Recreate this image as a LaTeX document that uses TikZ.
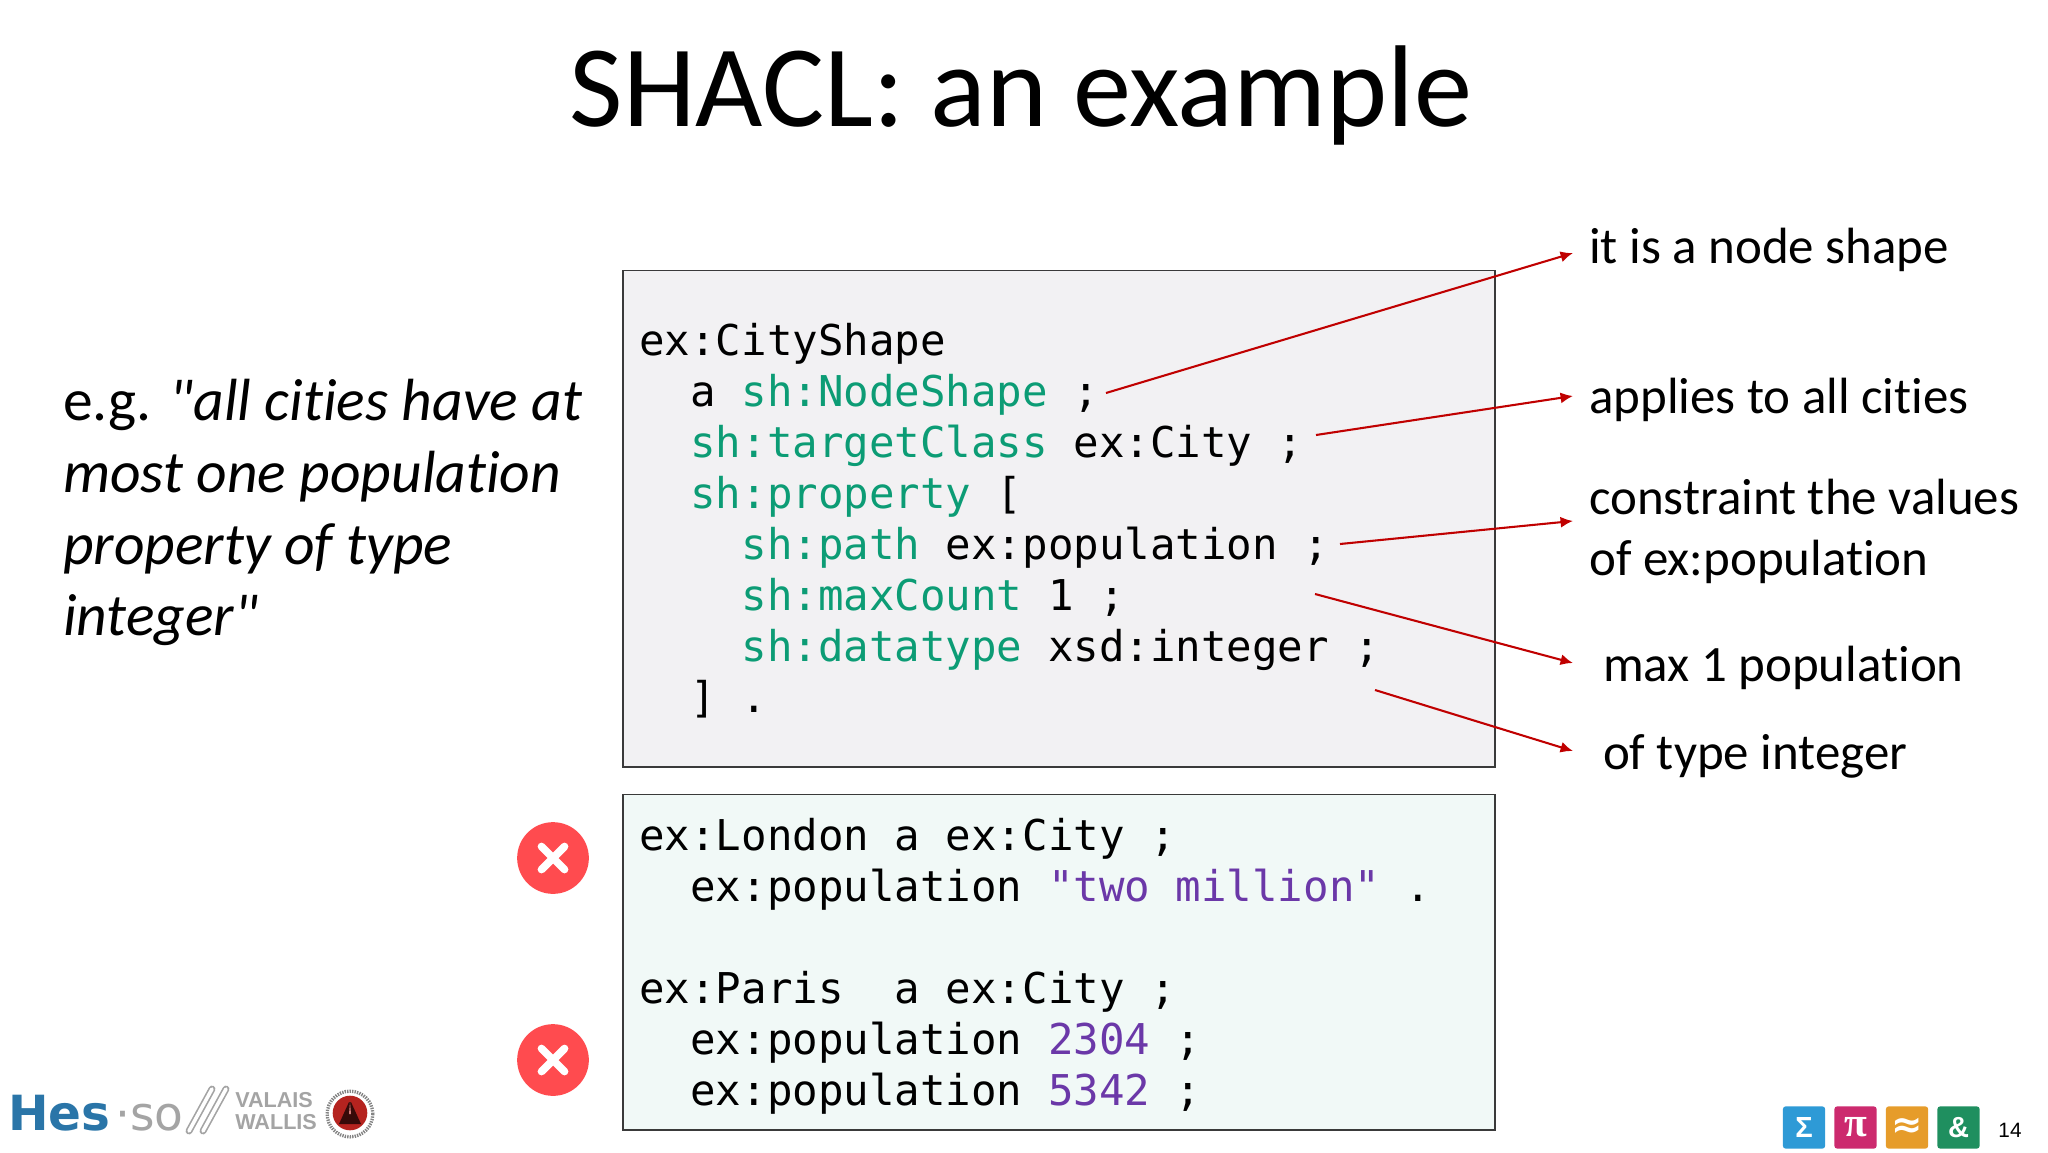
\documentclass[tikz,border=0pt]{standalone}
\usepackage{fontspec}
\setmainfont[Ligatures={TeXOff,NoCommon}]{Carlito}
\newfontfamily\codefont{DejaVu Sans Mono}
\newfontfamily\logofont{Liberation Sans}
\newfontfamily\brandfont{DejaVu Sans}
\newfontfamily\tileserif{Liberation Serif}
\usepackage{xcolor}
\usetikzlibrary{shapes,arrows.meta}

\definecolor{ShapeFill}{HTML}{F2F1F3}
\definecolor{DataFill}{HTML}{F1F9F7}
\definecolor{BoxLine}{HTML}{3A3A3A}
\definecolor{ArrowRed}{HTML}{C00000}
\definecolor{KeyGreen}{HTML}{0C9C75}
\definecolor{LitPurple}{HTML}{6B38A8}
\definecolor{BadRed}{HTML}{FF4B4F}
\definecolor{HesBlue}{HTML}{2A75A8}
\definecolor{HesGray}{HTML}{A4A4A4}
\definecolor{SealRed}{HTML}{B5231F}
\definecolor{TileBlue}{HTML}{2E9AD6}
\definecolor{TilePink}{HTML}{CC2A6E}
\definecolor{TileOrange}{HTML}{E69C2A}
\definecolor{TileGreen}{HTML}{1F8F5F}

\tikzset{
  codebox/.style={draw=BoxLine, line width=1.2pt, anchor=north west, inner sep=0pt},
  codetext/.style={anchor=north west, inner sep=0pt, align=left, font=\fontsize{30.65pt}{36.85pt}\selectfont\codefont},
  note/.style={anchor=west, inner ysep=0pt, inner xsep=11.5pt, align=left, font=\fontsize{36.8pt}{44.6pt}\selectfont},
  farnote/.style={note, inner xsep=21.5pt},
  badmark/.style={circle, fill=BadRed, inner sep=0pt, minimum size=51.8pt},
  badcross/.style={cross out, draw=white, line width=5.6pt, line cap=round, inner sep=0pt, minimum size=11pt},
  notearrow/.style={draw=ArrowRed, line width=1.5pt, -{Latex[length=9pt,width=8pt]}},
  tile/.style={rounded corners=2pt, inner sep=0pt, minimum size=30.5pt, text=white},
}
\newcommand{\kw}[1]{\textcolor{KeyGreen}{#1}}
\newcommand{\lit}[1]{\textcolor{LitPurple}{#1}}

\begin{document}
\begin{tikzpicture}[x=0.01in, y=-0.01in]
\useasboundingbox (0,0) rectangle (2048,1152);

% title
\node[inner sep=0pt, font=\fontsize{84pt}{84pt}\selectfont] (title) at (1021,95) {SHACL: an example};

% left text
\node[anchor=north west, inner sep=0pt, align=left, font=\fontsize{43pt}{51.8pt}\selectfont] (claim) at (63,379)
  {e.g. \textit{"all cities have at}\\ \textit{most one population}\\ \textit{property of type}\\ \textit{integer"}};

% code boxes
\node[codebox, fill=ShapeFill, minimum width=630pt, minimum height=358.5pt] (shapebox) at (622,269.5) {};
\node[codebox, fill=DataFill, minimum width=630pt, minimum height=242.5pt] (databox) at (622,793.5) {};

\node[codetext] (shapecode) at (639,322.5) {ex:CityShape\\
~~a \kw{sh:NodeShape} ;\\
~~\kw{sh:targetClass} ex:City ;\\
~~\kw{sh:property} [\\
~~~~\kw{sh:path} ex:population ;\\
~~~~\kw{sh:maxCount} 1 ;\\
~~~~\kw{sh:datatype} xsd:integer ;\\
~~] .};

\node[codetext] (datacode) at (639,817.5) {ex:London a ex:City ;\\
~~ex:population \lit{"two million"} .\\
\\
ex:Paris ~a ex:City ;\\
~~ex:population \lit{2304} ;\\
~~ex:population \lit{5342} ;};

% bad marks
\node[badmark] (badlondon) at (553,858) {};
\node[badcross] (crosslondon) at (553,858) {};
\node[badmark] (badparis) at (553,1060) {};
\node[badcross] (crossparis) at (553,1060) {};

% notes
\node[note] (noteshape) at (1573,250.4) {it is a node shape};
\node[note] (notetarget) at (1573,400) {applies to all cities};
\node[note] (notepath) at (1573,531.5) {constraint the values\\of ex:population};
\node[farnote] (notemax) at (1573,668) {max 1 population};
\node[farnote] (notetype) at (1573,756) {of type integer};

\coordinate (fromshape) at (1106,393);
\coordinate (fromtarget) at (1316,435);
\coordinate (frompath) at (1340,544);
\coordinate (frommax) at (1315,594);
\coordinate (fromtype) at (1375,690);

\draw[notearrow] (fromshape) -- ([yshift=-1.9pt]noteshape.west);
\draw[notearrow] (fromtarget) -- ([yshift=2.9pt]notetarget.west);
\draw[notearrow] (frompath) -- ([yshift=7.6pt]notepath.west);
\draw[notearrow] (frommax) -- ([yshift=3.6pt]notemax.west);
\draw[notearrow] (fromtype) -- ([yshift=3.6pt]notetype.west);

% logo
\node[anchor=base west, inner sep=0pt, text=HesBlue, font=\fontsize{35pt}{35pt}\selectfont\brandfont\bfseries] (hes) at (8,1130) {Hes};
\node[anchor=base west, inner sep=0pt, text=HesGray, font=\fontsize{34pt}{34pt}\selectfont\brandfont] (so) at (115,1130) {·so};
\draw[HesGray, line width=5pt, line cap=round] (189,1131) -- (212,1089);
\draw[white, line width=2.6pt, line cap=round] (189,1131) -- (212,1089);
\draw[HesGray, line width=5pt, line cap=round] (203,1131) -- (226,1089);
\draw[white, line width=2.6pt, line cap=round] (203,1131) -- (226,1089);
\node[anchor=north west, inner sep=0pt, align=left, text=HesGray, font=\fontsize{15.6pt}{16pt}\selectfont\logofont\bfseries] (valais) at (235,1092) {VALAIS\\WALLIS};
\node[circle, draw=HesGray!80!black, dash pattern=on 1pt off 0.8pt, fill=white, line width=2.4pt, inner sep=0pt, minimum size=33pt] (seal) at (350,1114) {};
\node[circle, fill=SealRed, inner sep=0pt, minimum size=25pt] (sealcore) at (350,1113) {};
\fill[black!70!SealRed] (339,1124) -- (349,1102) -- (351,1102) -- (361,1124) -- cycle;
\fill[SealRed!60!white] (349,1114) -- (350,1102) -- (351,1114) -- cycle;

% tiles
\node[tile, fill=TileBlue, font=\fontsize{21pt}{21pt}\selectfont\logofont\bfseries] (sigma) at (1804,1127.5) {Σ};
\node[tile, fill=TilePink, font=\fontsize{30pt}{30pt}\selectfont\tileserif\bfseries] (pi) at (1855.5,1127.5) {π};
\node[tile, fill=TileOrange, font=\fontsize{27pt}{27pt}\selectfont\brandfont\bfseries] (approx) at (1907,1127.5) {≈};
\node[tile, fill=TileGreen, font=\fontsize{21pt}{21pt}\selectfont\logofont\bfseries] (amp) at (1958.5,1127.5) {\&};
\node[inner sep=0pt, font=\fontsize{15pt}{15pt}\selectfont\logofont] (pageno) at (2010,1130) {14};
\end{tikzpicture}
\end{document}
